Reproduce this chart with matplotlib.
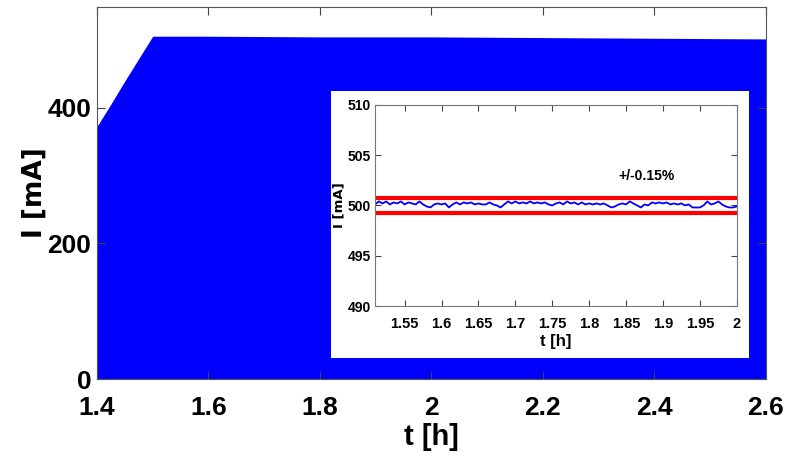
import matplotlib
matplotlib.use("Agg")
import matplotlib.pyplot as plt
from matplotlib.patches import Rectangle

# === 数据 ===
# 主图: 电流包络 (PWM 电流在 0 和包络之间振荡)
t_env = [1.40, 1.425, 1.45, 1.475, 1.50, 1.55, 1.60, 1.80, 2.00, 2.20, 2.40, 2.60]
i_env = [372, 405, 439, 472, 505, 505, 505, 504, 504, 503, 502, 501]

# 插图: 放大后的电流
t_zoom = [1.510, 1.515, 1.520, 1.525, 1.530, 1.535, 1.540, 1.545, 1.550, 1.555,
          1.560, 1.565, 1.570, 1.575, 1.580, 1.585, 1.590, 1.595, 1.600, 1.605,
          1.610, 1.615, 1.620, 1.625, 1.630, 1.635, 1.640, 1.645, 1.650, 1.655,
          1.660, 1.665, 1.670, 1.675, 1.680, 1.685, 1.690, 1.695, 1.700, 1.705,
          1.710, 1.715, 1.720, 1.725, 1.730, 1.735, 1.740, 1.745, 1.750, 1.755,
          1.760, 1.765, 1.770, 1.775, 1.780, 1.785, 1.790, 1.795, 1.800, 1.805,
          1.810, 1.815, 1.820, 1.825, 1.830, 1.835, 1.840, 1.845, 1.850, 1.855,
          1.860, 1.865, 1.870, 1.875, 1.880, 1.885, 1.890, 1.895, 1.900, 1.905,
          1.910, 1.915, 1.920, 1.925, 1.930, 1.935, 1.940, 1.945, 1.950, 1.955,
          1.960, 1.965, 1.970, 1.975, 1.980, 1.985, 1.990, 1.995, 2.000]
i_zoom = [500.1, 500.4, 500.2, 500.4, 500.1, 500.3, 500.2, 500.4, 500.1, 500.3,
          500.2, 500.1, 500.4, 500.1, 499.9, 499.8, 500.1, 500.2, 500.1, 500.2,
          499.8, 500.1, 500.3, 500.1, 500.3, 500.2, 500.3, 500.1, 500.2, 500.1,
          500.1, 500.3, 500.1, 500.0, 499.8, 500.1, 500.4, 500.2, 500.4, 500.2,
          500.3, 500.2, 500.4, 500.2, 500.3, 500.2, 500.3, 500.1, 500.0, 500.2,
          500.3, 500.1, 500.4, 500.2, 500.3, 500.1, 500.3, 500.1, 500.2, 500.1,
          500.2, 500.1, 500.2, 500.0, 499.8, 499.9, 500.1, 500.2, 500.1, 500.4,
          500.2, 500.0, 499.8, 500.1, 500.0, 500.3, 500.2, 500.3, 500.2, 500.3,
          500.1, 500.2, 500.1, 500.2, 500.0, 500.1, 499.8, 499.8, 499.8, 500.0,
          500.4, 500.1, 500.2, 500.4, 500.1, 499.9, 499.8, 499.8, 499.9]

# 容差带 +/-0.15%
i_ref = 500
tol = 0.0015
band = [i_ref * (1 + tol), i_ref * (1 - tol)]

plt.rcParams['font.family'] = ['Liberation Sans', 'DejaVu Sans']
plt.rcParams['font.weight'] = 'bold'

fig = plt.figure(figsize=(7.88, 4.68), dpi=100)

# === 主图 ===
ax = fig.add_axes([0.123, 0.190, 0.849, 0.795])
ax.fill_between(t_env, 0, i_env, color='#0000ff', lw=0)
ax.set_xlim(1.4, 2.6)
ax.set_ylim(0, 548)
ax.set_xticks([1.4, 1.6, 1.8, 2.0, 2.2, 2.4, 2.6])
ax.set_xticklabels(['1.4', '1.6', '1.8', '2', '2.2', '2.4', '2.6'])
ax.set_yticks([0, 200, 400])
ax.tick_params(direction='in', top=True, right=True, labelsize=19, length=6,
               color='#444444')
ax.tick_params(axis='x', pad=12)
ax.tick_params(axis='y', pad=4)
ax.set_xlabel('t [h]', fontsize=21, fontweight='bold', labelpad=2)
ax.set_ylabel('I [mA]', fontsize=19, fontweight='bold', family='DejaVu Sans')
ax.yaxis.set_label_coords(-0.073, 0.5)
for s in ax.spines.values():
    s.set_color('#555555')

# 插图白色背景
fig.patches.append(Rectangle((0.420, 0.235), 0.530, 0.571, transform=fig.transFigure,
                             facecolor='white', edgecolor='none', zorder=5))

# === 插图 ===
ax2 = fig.add_axes([0.476, 0.346, 0.459, 0.430], zorder=6)
ax2.plot(t_zoom, i_zoom, color='#0000ff', lw=1.3)
for b in band:
    ax2.axhline(b, color='#ff0000', lw=3)
ax2.text(1.840, 502.9, '+/-0.15%', fontsize=10, fontweight='bold', va='center')
ax2.set_xlim(1.51, 2.0)
ax2.set_ylim(490, 510)
ax2.set_xticks([1.55, 1.6, 1.65, 1.7, 1.75, 1.8, 1.85, 1.9, 1.95, 2.0])
ax2.set_xticklabels(['1.55', '1.6', '1.65', '1.7', '1.75', '1.8', '1.85', '1.9', '1.95', '2'])
ax2.set_yticks([490, 495, 500, 505, 510])
ax2.tick_params(direction='in', top=True, right=True, labelsize=10, length=4,
                color='#444444', pad=3)
ax2.tick_params(axis='x', pad=8, labelsize=10.5)
ax2.set_xlabel('t [h]', fontsize=12, fontweight='bold', labelpad=2)
ax2.set_ylabel('I [mA]', fontsize=9.5, fontweight='bold', family='DejaVu Sans')
ax2.yaxis.set_label_coords(-0.082, 0.5)
for s in ax2.spines.values():
    s.set_color('#777777')

fig.savefig('out.png', dpi=100, facecolor='white')
